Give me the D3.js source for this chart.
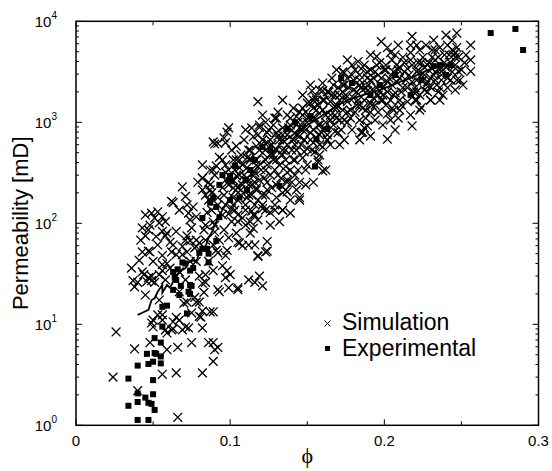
<!DOCTYPE html>
<html><head><meta charset="utf-8">
<script src="https://cdn.jsdelivr.net/npm/d3@7/dist/d3.min.js"></script>
<style>html,body{margin:0;padding:0;background:#fff;}svg{display:block;}</style>
</head><body>
<svg id="c" width="552" height="471"></svg>
<script>
// ---- Data ----
const simPhi = [0.026,0.024,0.038,0.040,0.066,0.048,0.049,0.053,0.056,0.059,0.066,0.075,0.073,0.071,0.065,0.063,0.080,0.056,0.065,0.082,0.059,0.082,0.086,0.070,0.078,0.089,0.090,0.092,0.089,0.050,0.050,0.058,0.062,0.069,0.075,0.067,0.063,0.056,0.082,0.089,0.092,0.098,0.100,0.087,0.081,
0.043,0.041,0.047,0.040,0.038,0.044,0.046,0.051,0.049,0.056,0.054,0.052,0.059,0.063,0.071,0.069,0.077,0.080,0.089,0.092,0.067,0.072,0.077,0.080,0.083,0.099,0.105,0.112,0.116,0.121,0.119,0.118,0.124,0.124,0.112,0.106,0.048,0.050,0.056,0.059,0.062,0.072,0.074,0.078,0.037,0.043,0.047,0.049,0.056,0.058,0.067,0.080,0.082,0.097,0.095,0.091,0.097,0.084,0.084,0.093,0.105,0.108,0.113,0.115,0.104,0.116,0.123,0.134,0.126,0.145,
0.045,0.049,0.053,0.056,0.054,0.063,0.071,0.072,0.073,0.076,0.078,0.074,0.043,0.047,0.045,0.056,0.058,0.061,0.072,0.074,0.069,0.078,
0.089,0.092,0.098,0.099,0.096,0.118,0.069,0.062,0.079,0.082,0.084,0.051,0.089,0.093,0.102,0.111,0.115,0.119,0.124,0.130,0.117,0.104,0.087,0.097,0.106,
0.082,0.087,0.091,0.090,0.090,0.097,0.113,0.118,0.125,0.128,0.137,0.143,0.150,0.156,0.119,0.131,0.140,0.150,0.154,0.124,0.130,0.137,0.145,0.152,0.154,0.147,0.141,0.136,0.129,0.123,0.116,0.111,0.149,0.145,0.137,0.131,0.124,0.117,0.111,0.102,0.145,0.143,0.137,0.130,0.154,0.082,0.087,0.086,
0.097,0.103,0.108,0.099,0.105,0.092,0.097,0.103,0.110,0.095,0.101,0.108,0.114,0.121,0.118,0.126,0.132,0.139,0.139,0.129,0.121,0.114,0.088,0.084,0.090,0.099,0.086,0.089,
0.218,0.202,0.199,0.191,0.185,0.202,0.160,0.158,0.155,0.163,0.170,0.176,0.168,0.165,0.160,0.194,0.189,0.184,0.171,
0.247,0.256,0.256,0.256,0.248,0.246,0.238,0.218,0.221,0.198,0.204,0.191,0.179,0.169,0.158,0.152,0.147,0.129,0.186,0.207,0.210,0.157,0.142,0.148,0.134,0.134,0.230,0.226,0.245,
0.195,0.174,0.155,0.223,0.217,0.225,0.215,0.207,0.199,0.191,0.184,0.176,0.169,0.160,0.154,0.210,0.201,0.194,0.184,0.176,0.167,0.163,0.221,0.226,0.210,0.205,0.197,0.189,0.180,0.173,0.221,0.233,0.236,0.239,0.233,0.241,0.231,0.236,0.243,0.246,0.230,0.223,0.217,0.209,0.196,0.188,0.181,0.165,0.157,0.161,0.168,0.174,0.184,0.191,0.198,0.206,0.213,0.228,0.187,0.207,0.183,
0.134,0.142,0.148,0.158,0.134,0.126,0.120,0.113,0.107,0.139,0.145,0.161,0.171,
0.105,0.118,0.084,0.090,0.110,0.116,0.123,0.129,
0.082,0.086,0.088,0.092,0.095,0.097,0.089,0.096,0.085,0.099,0.093,0.098,
0.101,0.104,0.106,0.109,0.112,0.114,0.117,0.102,0.105,0.110,0.113,0.118,0.107,0.116,0.102,0.119,0.110,0.114,
0.121,0.123,0.126,0.128,0.131,0.134,0.136,0.139,0.141,0.144,0.122,0.127,0.132,0.137,0.142,0.124,0.130,0.134,0.140,0.144,0.121,0.137,
0.147,0.149,0.152,0.154,0.157,0.160,0.162,0.165,0.167,0.170,0.148,0.153,0.158,0.163,0.168,0.150,0.155,0.160,0.166,0.171,0.147,0.157,
0.173,0.175,0.178,0.180,0.183,0.185,0.188,0.191,0.193,0.196,0.174,0.179,0.184,0.189,0.194,0.176,0.181,0.187,0.192,0.197,
0.200,0.202,0.205,0.208,0.210,0.213,0.215,0.218,0.221,0.223,0.201,0.206,0.212,0.217,0.222,0.209,0.202,0.198,
0.226,0.228,0.231,0.233,0.236,0.239,0.241,0.244,0.246,0.249,0.227,0.235,0.240,0.232,0.247,0.252,0.230,0.224,
0.104,0.107,0.111,0.115,0.117,0.121,0.125,0.128,0.132,0.134,0.138,0.141,0.145,0.147,0.151,0.154,0.158,0.160,0.164,0.167,0.171,0.173,0.177,0.180,0.184,0.186,0.190,0.193,0.196,0.199,0.203,0.206,0.209,0.212,0.216,0.219,0.222,0.225,0.229,0.232,0.235,0.238,0.242,0.244,0.105,0.116,0.123,0.136,0.149,0.162,0.174,0.187,0.204,0.220,0.236,0.246,
0.095,0.099,0.102,0.106,0.109,0.112,0.113,0.117,0.120,0.123,0.126,0.130,0.133,0.136,0.139,0.143,0.146,0.149,0.152,0.156,0.159,0.162,0.165,0.169,0.172,0.175,0.178,0.182,0.185,0.188,0.191,0.195,0.198,0.201,0.204,0.208,0.211,0.214,0.217,0.220,0.224,0.227,0.230,0.233,0.237,0.240,0.243,0.247,0.250,0.253,
0.042,0.048,0.053,0.058,0.065,0.067,0.075,0.078,0.061,0.071,0.045,0.036,0.054,0.065,0.083,
0.096,0.101,0.105,0.108,0.112,0.115,0.119,0.121,0.124,0.127,0.130,0.134,0.137,0.140,0.143,0.147,0.150,0.153,0.156,0.160,0.163,0.166,0.169,0.173,0.176,0.179,0.182,0.186,0.189,0.192,0.195,0.199,0.202,0.205,0.208,0.211,0.215,0.218,0.221,0.224,0.228,0.231,0.234,0.237,0.241,0.244,0.248,0.251];
const simK = [8.4,3.0,5.7,2.2,1.2,6.6,10.3,12.4,11.0,5.6,5.9,6.6,9.2,9.4,11.7,9.0,12.0,3.2,3.3,3.3,8.2,9.2,6.6,16.2,16.6,4.3,5.6,5.9,6.6,9.4,11.0,8.8,8.8,8.8,13,11,10.6,12.4,13.5,13.3,22,34,31,13.3,11.8,
52,43,53,26,23.5,31,26.5,26,30,39,31,74,80,61,68,49,57,64,61,51,21,16.6,18.5,16.6,20.7,23,22,27.5,26,24,30,47,53,66,61,64,52,42,48,40,52,52,42,42,27,33,29,27,34,27.5,33,30,25.5,29,38,54,48,31,26,21,65,60,80,89,80,61,52,135,128,170,
121,126,130,116,101,160,185,152,126,145,116,108,90,86,75,83,75,65,75,67,59,59,
640,620,800,880,700,1600,230,165,255,280,190,113,337,450,424,445,720,890,790,1100,580,580,240,268,300,
280,337,370,300,610,630,440,750,840,940,1180,1140,1550,1660,940,730,840,1000,1120,630,530,600,730,790,630,445,424,365,337,337,318,280,337,255,255,300,255,214,180,180,180,214,205,180,255,214,214,170,
378,337,378,240,225,180,152,135,152,121,104,113,132,152,108,96,104,126,170,135,190,240,135,96,82,72,42,34,
920,680,940,730,790,1210,330,475,510,670,790,1000,810,600,570,1050,920,670,1050,
7650,5800,4140,3200,3200,4900,1860,7100,5800,6300,4900,4640,3690,3300,2090,1550,1180,1100,800,840,1320,400,300,510,200,135,2230,2090,4640,
4500,3100,1800,5200,4900,4400,1600,1960,1660,1550,1480,1600,1380,1320,1380,3500,3690,3160,2940,2730,2340,2000,3160,2940,2740,2340,2050,2050,2090,2000,2000,2620,3300,4640,4140,5800,5200,2200,2620,3690,1660,1320,1180,1100,1260,1100,1260,1050,940,1660,1860,2340,2340,2620,2740,3160,3900,3690,3690,4640,4000,
750,600,670,750,475,475,600,530,475,940,880,880,600,
23,48,68,96,96,121,135,152,
378,255,200,152,225,320,103,86,128,124,68,54,
530,424,355,670,240,190,378,152,121,135,104,170,190,255,268,530,840,880,
1180,1000,670,424,1260,880,530,337,1380,1000,280,225,378,268,424,378,790,1660,530,337,670,750,
1860,1260,2340,840,1480,2050,1180,1600,940,2200,670,530,600,750,1180,378,1100,2450,2740,1660,840,424,
3160,1860,1320,2620,1660,3390,2200,1260,2740,1860,1050,840,1050,3160,1480,4140,3300,1660,2090,3900,
3300,2000,4140,2510,1660,3160,2200,3690,2620,1860,1480,1320,4400,5800,3900,5800,5500,2340,
3500,2510,4400,3160,5500,3900,2740,6500,4400,2620,5800,2000,7300,6500,5500,3900,1660,1400,
295,214,355,295,424,500,570,475,670,530,880,670,1260,1000,1100,1660,940,1320,2000,1380,1860,1320,2200,1740,2620,2090,2340,1740,2940,2200,2740,1860,3300,2200,2940,2000,3300,2620,3900,2940,4400,3300,4640,3160,170,152,190,214,240,337,670,880,1050,1660,1660,2090,
424,337,224,424,300,190,424,224,337,424,300,424,280,424,1100,530,600,840,670,1320,800,1000,1180,1480,840,1740,1100,1480,2200,1320,3300,2200,1660,3300,1660,3690,2000,2620,4140,2200,3900,2340,2740,5200,2620,3500,3900,2620,3300,4640,
68,96,61,104,83,135,90,68,36,27.5,19.5,36,17.4,49,86,
190,140,104,240,530,121,268,140,214,600,240,670,318,255,750,1380,550,2050,700,1660,670,1860,1100,2340,1260,2940,2000,1380,2740,1480,3690,1860,2510,1380,2940,1480,3390,2510,1660,2940,2000,3390,2340,2940,2200,5200,4400,2340];

const expPhi = [0.034,0.034,0.040,0.040,0.040,0.040,0.047,0.045,0.047,0.049,0.051,0.050,0.046,0.047,0.050,0.052,0.055,0.055,0.051,0.051,0.055,0.050,0.056,0.059,0.056,0.063,0.065,0.063,0.072,0.074,0.073,0.069,0.076,0.080,0.082,0.086,0.086,0.091,
0.071,0.074,0.066,0.064,0.068,0.075,0.074,0.067,0.082,0.085,
0.103,0.099,0.093,0.089,0.087,0.091,0.100,0.106,0.093,0.095,0.100,0.101,0.110,0.111,0.132,0.142,0.137,0.155,0.152,0.163,0.156,0.217,0.172,0.240,0.243,0.236,0.232,0.269,0.285,0.290,0.224,
0.179,0.197,0.207,0.191,0.126,0.116,0.121,0.113];
const expK = [1.56,2.9,3.9,2.07,1.7,1.13,1.13,1.88,1.67,1.63,1.42,2.03,5.1,4.05,4.26,5.1,4.8,4.1,5.2,7.3,6.6,2.8,9.5,15.3,14.9,21.9,27.5,33,12.8,24.5,21,41,36,51,56,50,41,67,
40,34,35,29,24,24,20,19.5,113,56,
370,268,240,180,160,145,170,180,115,300,295,260,268,214,235,1000,860,365,1150,860,680,1860,2740,2940,3690,3690,3600,7650,8400,5200,2620,
2450,2340,2940,1860,530,424,570,337];

const linePhi = [0.040,0.043,0.047,0.049,0.051,0.053,0.056,0.056,0.059,0.061,0.063,0.065,0.069,0.071,0.073,0.076,0.078,0.080,0.084,0.086,0.088,0.090,0.093,0.097,0.101,0.106,0.113,0.119,0.126,0.132,0.139,0.145,0.152,0.158,0.165,0.171,0.178,0.184,0.191,0.197,0.204,0.210,0.217,0.223,0.230,0.236,0.244];
const lineK = [12.4,13,13.9,17.4,18.1,21,24.5,20.5,24.5,23,26.5,30,34.5,36,41,43,41,52,59,72,81,96,121,152,190,240,300,378,475,600,720,840,980,1120,1320,1520,1700,1820,1960,2090,2290,2510,2750,3020,3390,3640,3820];

const xTicks = [0, 0.1, 0.2, 0.3];
const xTickLabels = ["0", "0.1", "0.2", "0.3"];
const xMinorTicks = [0.05, 0.15, 0.25];
const yDecades = [0, 1, 2, 3, 4];
const legendLabels = ["Simulation", "Experimental"];
const xLabel = "ϕ";
const yLabel = "Permeability [mD]";

// ---- Drawing ----
const L = 76, R = 538.5, T = 21.3, B = 425.3;
const svg = d3.select("#c");
const x = d3.scaleLinear().domain([0, 0.3]).range([L, R]);
const y = d3.scaleLog().domain([1, 1e4]).range([B, T]);
const font = "'Liberation Sans', Arial, Helvetica, sans-serif";

const nS = Math.min(simPhi.length, simK.length);
const sim = simPhi.slice(0, nS).map((p, i) => [p, simK[i]]);
const exp = expPhi.map((p, i) => [p, expK[i]]);
const line = linePhi.map((p, i) => [p, lineK[i]]);

const plot = svg.append("g");
const s = 4.4;
plot.selectAll("path.sim").data(sim).join("path")
  .attr("d", d => `M${x(d[0])-s},${y(d[1])-s}L${x(d[0])+s},${y(d[1])+s}M${x(d[0])-s},${y(d[1])+s}L${x(d[0])+s},${y(d[1])-s}`)
  .attr("stroke", "#000").attr("stroke-width", 1.3).attr("fill", "none");

plot.append("path").datum(line)
  .attr("d", d3.line().x(d => x(d[0])).y(d => y(d[1])))
  .attr("fill", "none").attr("stroke", "#000").attr("stroke-width", 1.8);

const q = 6;
plot.selectAll("rect.exp").data(exp).join("rect")
  .attr("x", d => x(d[0]) - q/2).attr("y", d => y(d[1]) - q/2)
  .attr("width", q).attr("height", q).attr("fill", "#000");

// frame
svg.append("rect").attr("x", L).attr("y", T).attr("width", R - L).attr("height", B - T)
  .attr("fill", "none").attr("stroke", "#000").attr("stroke-width", 1.5);

// x ticks (bottom and top)
const ax = svg.append("g").attr("stroke", "#000").attr("stroke-width", 1);
xTicks.forEach(t => {
  ax.append("line").attr("x1", x(t)).attr("x2", x(t)).attr("y1", B).attr("y2", B - 6);
  ax.append("line").attr("x1", x(t)).attr("x2", x(t)).attr("y1", T).attr("y2", T + 6);
});
xMinorTicks.forEach(t => {
  ax.append("line").attr("x1", x(t)).attr("x2", x(t)).attr("y1", B).attr("y2", B - 4);
  ax.append("line").attr("x1", x(t)).attr("x2", x(t)).attr("y1", T).attr("y2", T + 4);
});
// y ticks (left and right)
yDecades.forEach(e => {
  const v = Math.pow(10, e);
  ax.append("line").attr("x1", L).attr("x2", L + 6).attr("y1", y(v)).attr("y2", y(v));
  ax.append("line").attr("x1", R).attr("x2", R - 6).attr("y1", y(v)).attr("y2", y(v));
  if (e < 4) {
    for (let m = 2; m <= 9; m++) {
      const vv = m * v;
      ax.append("line").attr("x1", L).attr("x2", L + 3).attr("y1", y(vv)).attr("y2", y(vv));
      ax.append("line").attr("x1", R).attr("x2", R - 3).attr("y1", y(vv)).attr("y2", y(vv));
    }
  }
});

// tick labels
xTicks.forEach((t, i) => {
  svg.append("text").attr("x", x(t)).attr("y", B + 20.5).attr("text-anchor", "middle")
    .attr("font-family", font).attr("font-size", 15).text(xTickLabels[i]);
});
yDecades.forEach(e => {
  const tx = svg.append("text").attr("x", 57).attr("y", y(Math.pow(10, e)) + 5.5)
    .attr("text-anchor", "end").attr("font-family", font).attr("font-size", 15);
  tx.append("tspan").text("10");
  tx.append("tspan").attr("dy", -8).attr("font-size", 10).text(String(e));
});

// axis labels
svg.append("text").attr("transform", `translate(28,${(T + B) / 2}) rotate(-90)`)
  .attr("text-anchor", "middle").attr("font-family", font).attr("font-size", 22).text(yLabel);
svg.append("text").attr("x", (L + R) / 2).attr("y", 463).attr("text-anchor", "middle")
  .attr("font-family", "'Liberation Serif', 'DejaVu Serif', serif").attr("font-size", 22).text(xLabel);

// legend
const lg = svg.append("g");
const lx = 327.5, ly1 = 323.5, ly2 = 348.5, ls = 3;
lg.append("path").attr("d", `M${lx-ls},${ly1-ls}L${lx+ls},${ly1+ls}M${lx-ls},${ly1+ls}L${lx+ls},${ly1-ls}`)
  .attr("stroke", "#000").attr("stroke-width", 1);
lg.append("rect").attr("x", lx - 2.5).attr("y", ly2 - 2.5).attr("width", 5).attr("height", 5).attr("fill", "#000");
lg.append("text").attr("x", 342).attr("y", 330).attr("font-family", font).attr("font-size", 23).text(legendLabels[0]);
lg.append("text").attr("x", 342).attr("y", 356).attr("font-family", font).attr("font-size", 23).text(legendLabels[1]);
</script>
</body></html>
